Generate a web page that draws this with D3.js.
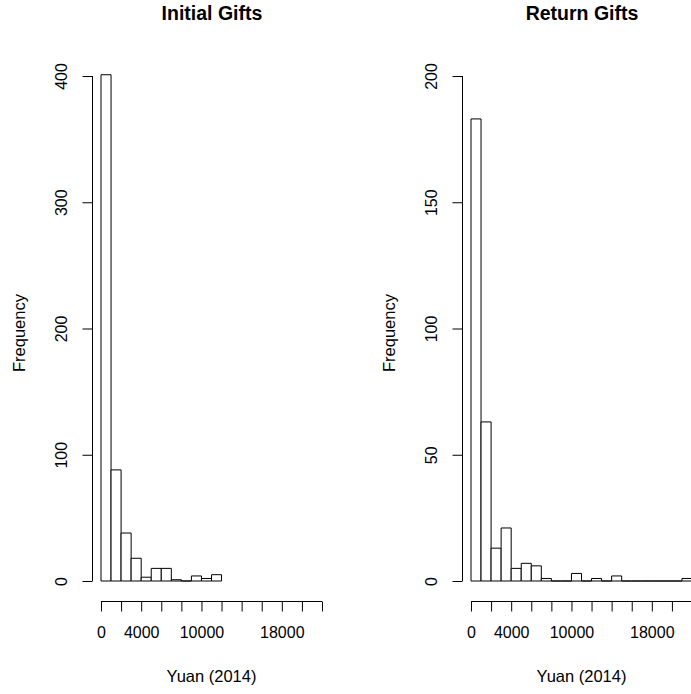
<!DOCTYPE html>
<html>
<head>
<meta charset="utf-8">
<script src="https://cdn.jsdelivr.net/npm/d3@7"></script>
<style>
  body { margin: 0; background: #fff; }
  text { font-family: "Liberation Sans", Arial, sans-serif; fill: #000; }
</style>
</head>
<body>
<div id="chart"></div>
<script>
// histogram counts, bins of 1000 yuan starting at 0
var initialCounts = [401, 88, 38, 18, 3, 10, 10, 1, 0, 4, 2, 5];
var returnCounts = [183, 63, 13, 21, 5, 7, 6, 1, 0, 0, 3, 0, 1, 0, 2, 0, 0, 0, 0, 0, 0, 1];
var binWidth = 1000;

var xTicks = [0, 2000, 4000, 6000, 8000, 10000, 12000, 14000, 16000, 18000, 20000, 22000];
var xTickLabels = {0: "0", 4000: "4000", 10000: "10000", 18000: "18000"};
var initialYTicks = [0, 100, 200, 300, 400];
var returnYTicks = [0, 50, 100, 150, 200];

var panels = [
  {title: "Initial Gifts", counts: initialCounts, yTicks: initialYTicks, yMax: 400, offset: 0},
  {title: "Return Gifts", counts: returnCounts, yTicks: returnYTicks, yMax: 200, offset: 370}
];

var W = 691, H = 694;
var svg = d3.select("#chart").append("svg")
    .attr("width", W)
    .attr("height", H);

panels.forEach(function(p) {
    var g = svg.append("g").attr("transform", "translate(" + p.offset + ",0)");

    var x = d3.scaleLinear().domain([0, 22000]).range([101, 322]);
    var y = d3.scaleLinear().domain([0, p.yMax]).range([581, 76]);

    // bars as closed paths so that empty bins still show a flat line, like R
    g.selectAll("path.bar")
        .data(p.counts)
        .enter()
        .append("path")
        .attr("class", "bar")
        .attr("d", function(d, i) {
            var x0 = x(i * binWidth), x1 = x((i + 1) * binWidth);
            return "M" + x0 + "," + y(0) + "V" + y(d) + "H" + x1 + "V" + y(0) + "Z";
        })
        .attr("fill", "#fff")
        .attr("stroke", "#000")
        .attr("stroke-width", 1);

    // x axis
    var xAxis = d3.axisBottom(x)
        .tickValues(xTicks)
        .tickSize(10)
        .tickFormat(function(d) { return xTickLabels[d] || ""; });
    var gx = g.append("g")
        .attr("transform", "translate(0,601.5)")
        .call(xAxis);
    gx.select(".domain").attr("d", "M" + x(0) + ",0H" + x(22000)).attr("stroke", "#000");
    gx.selectAll("line").attr("stroke", "#000");
    gx.selectAll("text")
        .attr("y", 25)
        .attr("dy", "0.71em")
        .style("font-size", "16px");

    // y axis
    var yAxis = d3.axisLeft(y)
        .tickValues(p.yTicks)
        .tickSize(10);
    var gy = g.append("g")
        .attr("transform", "translate(92.5,0)")
        .call(yAxis);
    gy.select(".domain").attr("d", "M0," + y(0) + "V" + y(p.yMax)).attr("stroke", "#000");
    gy.selectAll("line").attr("stroke", "#000");
    gy.selectAll(".tick text")
        .attr("x", null)
        .attr("dy", null)
        .attr("transform", "translate(-25.5,0) rotate(-90)")
        .attr("text-anchor", "middle")
        .style("font-size", "16px");

    // title and axis labels
    g.append("text")
        .attr("x", 212)
        .attr("y", 20)
        .attr("text-anchor", "middle")
        .style("font-size", "19.5px")
        .style("font-weight", "bold")
        .text(p.title);

    g.append("text")
        .attr("x", 211.5)
        .attr("y", 682)
        .attr("text-anchor", "middle")
        .style("font-size", "16.5px")
        .text("Yuan (2014)");

    g.append("text")
        .attr("transform", "translate(25,333) rotate(-90)")
        .attr("text-anchor", "middle")
        .style("font-size", "16.5px")
        .text("Frequency");
});
</script>
</body>
</html>
